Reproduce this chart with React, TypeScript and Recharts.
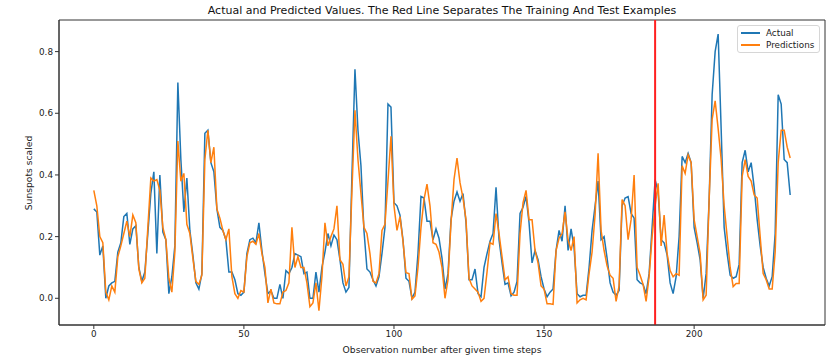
import React from "react";
import {
  LineChart,
  Line,
  XAxis,
  YAxis,
  ReferenceLine,
  ReferenceArea,
} from "recharts";

const actual = [
  0.29, 0.28, 0.14, 0.17, 0.0, 0.04, 0.05, 0.055, 0.15, 0.18,
  0.265, 0.275, 0.175, 0.225, 0.235, 0.1, 0.055, 0.085, 0.21, 0.34,
  0.41, 0.145, 0.4, 0.215, 0.19, 0.015, 0.07, 0.17, 0.7, 0.45,
  0.28, 0.39, 0.22, 0.14, 0.05, 0.03, 0.08, 0.535, 0.545, 0.44,
  0.41, 0.29, 0.23, 0.22, 0.19, 0.085, 0.085, 0.06, 0.015, 0.01,
  0.02, 0.145, 0.19, 0.195, 0.18, 0.245, 0.155, 0.08, 0.015, 0.025,
  0.0, 0.0, 0.045, 0.0, 0.09, 0.08, 0.1, 0.145, 0.14, 0.135,
  0.08, 0.085, 0.0, 0.0, 0.085, 0.02, 0.1, 0.15, 0.21, 0.17,
  0.205, 0.19, 0.125, 0.05, 0.02, 0.035, 0.4, 0.743, 0.545, 0.43,
  0.22, 0.095, 0.085, 0.06, 0.04, 0.07, 0.145, 0.23, 0.63, 0.62,
  0.31, 0.3, 0.27, 0.19, 0.065, 0.055, 0.0, 0.02, 0.145, 0.33,
  0.325, 0.25, 0.25, 0.19, 0.225, 0.195, 0.13, 0.03, 0.08, 0.255,
  0.315, 0.345, 0.315, 0.34, 0.245, 0.06, 0.06, 0.095, 0.015, 0.005,
  0.1, 0.145, 0.185, 0.21, 0.36, 0.19, 0.115, 0.045, 0.05, 0.008,
  0.02, 0.055, 0.275, 0.295, 0.33, 0.245, 0.115, 0.155, 0.125, 0.07,
  0.03, 0.005, 0.02, 0.03, 0.155, 0.22, 0.185, 0.3, 0.155, 0.225,
  0.165, 0.015, 0.005, 0.01, 0.01, 0.1, 0.22, 0.3, 0.38, 0.19,
  0.2, 0.13, 0.05, 0.02, 0.01, 0.025, 0.3, 0.325, 0.33, 0.275,
  0.26, 0.06, 0.05, 0.045, 0.015, 0.08, 0.23, 0.385, 0.345, 0.19,
  0.18, 0.14, 0.05, 0.015, 0.07, 0.2, 0.46, 0.44, 0.47, 0.44,
  0.23, 0.18, 0.125, 0.0, 0.08, 0.32, 0.66, 0.8, 0.857, 0.55,
  0.23, 0.145, 0.075, 0.065, 0.07, 0.11, 0.44, 0.48, 0.41, 0.44,
  0.36, 0.255, 0.17, 0.1, 0.065, 0.04, 0.07, 0.21, 0.66, 0.63,
  0.45, 0.44, 0.335,
];

const predictions = [
  0.35, 0.3, 0.2, 0.18, 0.02, -0.005, 0.04, 0.02, 0.135, 0.17,
  0.21, 0.25, 0.2, 0.27, 0.245, 0.095, 0.05, 0.065, 0.23, 0.39,
  0.38, 0.385, 0.35, 0.23, 0.19, 0.065, 0.02, 0.15, 0.51, 0.38,
  0.405, 0.24, 0.21, 0.13, 0.055, 0.045, 0.075, 0.45, 0.545, 0.44,
  0.49, 0.29, 0.26, 0.22, 0.19, 0.225, 0.07, 0.015, 0.0, 0.025,
  0.02, 0.135, 0.18, 0.185, 0.175, 0.21, 0.145, 0.1, -0.015, 0.03,
  -0.015, -0.018, -0.018, 0.02, 0.025, 0.05, 0.23, 0.1, 0.135, 0.1,
  0.1, 0.05, -0.027, -0.015, 0.05, -0.04, 0.07, 0.245, 0.17, 0.2,
  0.225, 0.3, 0.125, 0.11, 0.04, 0.07, 0.35, 0.61, 0.45, 0.34,
  0.23, 0.21, 0.145, 0.055, 0.05, 0.08, 0.22, 0.24, 0.38, 0.525,
  0.3, 0.22, 0.265, 0.185, 0.083, 0.08, -0.003, 0.008, 0.1, 0.23,
  0.32, 0.37, 0.3, 0.18, 0.175, 0.15, 0.1, 0.0, 0.06, 0.245,
  0.385, 0.455, 0.375, 0.325, 0.255, 0.065, 0.04, 0.03, 0.02, -0.01,
  0.0, 0.085, 0.18, 0.175, 0.275, 0.21, 0.135, 0.06, 0.07, 0.015,
  0.01, 0.01, 0.21, 0.31, 0.35, 0.255, 0.255, 0.155, 0.115, 0.04,
  0.03, -0.018, -0.018, -0.02, 0.155, 0.195, 0.21, 0.28, 0.19, 0.155,
  0.2, -0.015, -0.005, 0.0, -0.005, 0.08, 0.15, 0.27, 0.47, 0.22,
  0.155, 0.105, 0.075, 0.065, -0.01, 0.04, 0.32, 0.3, 0.19, 0.255,
  0.4, 0.1, 0.075, 0.045, -0.01, 0.07, 0.2, 0.3, 0.373, 0.17,
  0.27, 0.145, 0.09, 0.07, 0.08, 0.075, 0.43, 0.405, 0.465, 0.44,
  0.255, 0.2, 0.145, -0.005, 0.01, 0.32, 0.58, 0.64, 0.55, 0.45,
  0.3, 0.2, 0.1, 0.038, 0.048, 0.048, 0.395, 0.45, 0.395, 0.38,
  0.335, 0.325, 0.2, 0.08, 0.06, 0.03, 0.03, 0.15, 0.44, 0.545,
  0.545, 0.49, 0.455,
];

const xTicks = [0, 50, 100, 150, 200];
const yTicks = [0, 0.2, 0.4, 0.6, 0.8];
const splitAt = 187;

const BLUE = "#1f77b4";
const ORANGE = "#ff7f0e";
const FONT = "'DejaVu Sans', sans-serif";
const AXIS = "#333";

const data = actual.map((a, i) => ({ step: i, actual: a, predicted: predictions[i] }));

const xDomain = [-11.6, 243.6];
const yDomain = [-0.0866, 0.9025];

const tickStyle = { fontSize: 8.8, fill: "#222", fontFamily: FONT };

function LegendBox() {
  const items = [
    { name: "Actual", color: BLUE },
    { name: "Predictions", color: ORANGE },
  ];
  return (
    <div
      style={{
        position: "absolute",
        left: 737,
        top: 25,
        width: 83,
        height: 28,
        boxSizing: "border-box",
        border: "1px solid #d6d6d6",
        borderRadius: 3,
        background: "rgba(255,255,255,0.8)",
        fontFamily: FONT,
        fontSize: 8.8,
        color: "#222",
        padding: "1px 0 0 3px",
      }}
    >
      {items.map((it) => (
        <div key={it.name} style={{ display: "flex", alignItems: "center", height: 12 }}>
          <span style={{ display: "inline-block", width: 19, height: 1.5, background: it.color, marginRight: 6 }} />
          <span>{it.name}</span>
        </div>
      ))}
    </div>
  );
}

export default function App() {
  return (
    <div style={{ position: "absolute", left: 0, top: 0, width: 840, height: 356, background: "#fff" }}>
      <div
        style={{
          position: "absolute",
          left: 59,
          width: 766,
          top: 4,
          textAlign: "center",
          fontFamily: FONT,
          fontSize: 11,
          color: "#111",
          lineHeight: "14px",
        }}
      >
        Actual and Predicted Values. The Red Line Separates The Training And Test Examples
      </div>
      <div
        style={{
          position: "absolute",
          left: 28,
          top: 173,
          transform: "translate(-50%, -50%) rotate(-90deg)",
          fontFamily: FONT,
          fontSize: 9.2,
          color: "#222",
          whiteSpace: "nowrap",
        }}
      >
        Sunspots scaled
      </div>
      <LineChart width={840} height={356} data={data} margin={{ top: 20, right: 15, bottom: 0, left: 0 }}>
        <XAxis
          dataKey="step"
          type="number"
          domain={xDomain}
          allowDataOverflow
          ticks={xTicks}
          tickSize={4}
          tickMargin={2}
          height={31}
          stroke={AXIS}
          tick={tickStyle}
          label={{
            value: "Observation number after given time steps",
            position: "insideBottom",
            offset: 3,
            style: { fontSize: 9.2, fill: "#222", fontFamily: FONT },
          }}
        />
        <YAxis
          type="number"
          domain={yDomain}
          allowDataOverflow
          ticks={yTicks}
          tickFormatter={(v) => v.toFixed(1)}
          tickSize={4}
          tickMargin={2}
          width={59}
          stroke={AXIS}
          tick={tickStyle}
        />
        <ReferenceArea
          x1={xDomain[0]}
          x2={xDomain[1]}
          y1={yDomain[0]}
          y2={yDomain[1]}
          fill="none"
          fillOpacity={0}
          stroke={AXIS}
          strokeWidth={1}
        />
        <Line
          type="linear"
          dataKey="actual"
          name="Actual"
          stroke={BLUE}
          strokeWidth={1.5}
          dot={false}
          isAnimationActive={false}
        />
        <Line
          type="linear"
          dataKey="predicted"
          name="Predictions"
          stroke={ORANGE}
          strokeWidth={1.5}
          dot={false}
          isAnimationActive={false}
        />
        <ReferenceLine x={splitAt} stroke="#ff2020" strokeWidth={2} />
      </LineChart>
      <LegendBox />
    </div>
  );
}
